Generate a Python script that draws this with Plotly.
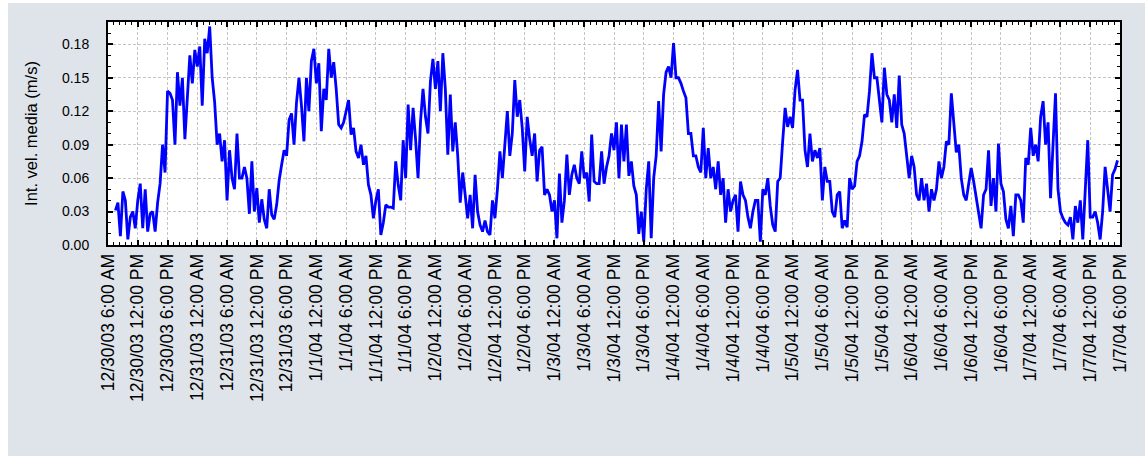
import plotly.graph_objects as go
import pandas as pd

start_time = "2003-12-30 07:30"
step_minutes = 30

velocity = [
    # 12/30 07:30 ->
    0.031, 0.038, 0.008, 0.048, 0.040, 0.005, 0.025, 0.030, 0.015, 0.040,
    0.055, 0.015, 0.050, 0.012, 0.028, 0.030, 0.012, 0.038, 0.055, 0.090,
    0.065, 0.138, 0.136, 0.130, 0.090, 0.155, 0.125, 0.150, 0.095, 0.138,
    0.170, 0.145, 0.175, 0.160, 0.178, 0.125, 0.185, 0.172, 0.196, 0.150,
    0.128, 0.090, 0.100, 0.075, 0.094, 0.040, 0.085, 0.060, 0.050, 0.100,
    0.060, 0.060, 0.070, 0.060, 0.028, 0.075, 0.030,
    # 12/31 12:00 PM ->
    0.051, 0.020, 0.041, 0.023, 0.015, 0.050, 0.027, 0.023, 0.036, 0.058,
    0.072, 0.085, 0.080, 0.112, 0.118, 0.090, 0.128, 0.150, 0.125, 0.093,
    0.150, 0.120, 0.165, 0.176, 0.145, 0.163, 0.102, 0.140, 0.130, 0.176,
    0.150, 0.164, 0.140, 0.108, 0.105, 0.110, 0.120, 0.130, 0.099, 0.105,
    0.084, 0.078, 0.090, 0.072, 0.080, 0.054, 0.045, 0.024, 0.040, 0.050,
    0.009, 0.020, 0.036, 0.034, 0.034, 0.033, 0.075, 0.054,
    # 1/1 5:00 PM ->
    0.040, 0.094, 0.060, 0.126, 0.085, 0.123, 0.095, 0.060, 0.111, 0.140,
    0.115, 0.100, 0.147, 0.167, 0.140, 0.165, 0.120, 0.172, 0.140, 0.081,
    0.135, 0.084, 0.110, 0.080, 0.038, 0.065, 0.045, 0.024, 0.045, 0.015,
    0.063, 0.030, 0.018, 0.012, 0.022, 0.012, 0.009, 0.040, 0.024, 0.050,
    0.084, 0.060, 0.090, 0.120, 0.080, 0.100, 0.148, 0.115, 0.130, 0.105,
    0.066, 0.115, 0.095, 0.080, 0.100, 0.057, 0.085, 0.088, 0.045,
    # 1/2 10:30 PM ->
    0.050, 0.045, 0.030, 0.040, 0.006, 0.064, 0.020, 0.040, 0.081, 0.045,
    0.063, 0.072, 0.060, 0.055, 0.084, 0.060, 0.065, 0.039, 0.099, 0.057,
    0.055, 0.055, 0.084, 0.055, 0.070, 0.080, 0.100, 0.085, 0.110, 0.060,
    0.108, 0.075, 0.108, 0.062, 0.075, 0.053, 0.045, 0.010, 0.030, 0.003,
    0.050, 0.075, 0.006, 0.060, 0.080, 0.129, 0.084, 0.135, 0.155, 0.160,
    0.150, 0.181, 0.150, 0.150, 0.145, 0.138, 0.132, 0.100,
    # 1/4 3:30 AM ->
    0.100, 0.080, 0.080, 0.070, 0.065, 0.105, 0.060, 0.087, 0.060, 0.070,
    0.050, 0.075, 0.045, 0.060, 0.020, 0.050, 0.030, 0.040, 0.045, 0.012,
    0.057, 0.045, 0.040, 0.025, 0.015, 0.030, 0.040, 0.040, 0.003, 0.050,
    0.045, 0.060, 0.035, 0.018, 0.012, 0.057, 0.060, 0.093, 0.123, 0.106,
    0.115, 0.105, 0.139, 0.157, 0.130, 0.130, 0.085, 0.070, 0.100, 0.075,
    0.085, 0.078, 0.087, 0.040, 0.070, 0.057, 0.057, 0.030, 0.025,
    # 1/5 9:00 AM ->
    0.045, 0.048, 0.015, 0.022, 0.016, 0.060, 0.050, 0.053, 0.075, 0.080,
    0.093, 0.117, 0.115, 0.138, 0.172, 0.150, 0.150, 0.128, 0.110, 0.159,
    0.135, 0.130, 0.110, 0.135, 0.105, 0.152, 0.108, 0.100, 0.080, 0.060,
    0.080, 0.070, 0.045, 0.040, 0.060, 0.040, 0.055, 0.030, 0.050, 0.040,
    0.050, 0.075, 0.060, 0.070, 0.093, 0.090, 0.136, 0.108, 0.083, 0.090,
    0.060, 0.045, 0.040, 0.055, 0.069, 0.057, 0.042, 0.030,
    # 1/6 2:00 PM ->
    0.015, 0.045, 0.050, 0.085, 0.035, 0.060, 0.030, 0.091, 0.055, 0.048,
    0.023, 0.015, 0.035, 0.008, 0.045, 0.045, 0.040, 0.020, 0.078, 0.072,
    0.105, 0.080, 0.090, 0.075, 0.115, 0.129, 0.090, 0.110, 0.042, 0.090,
    0.136, 0.050, 0.030, 0.024, 0.020, 0.018, 0.025, 0.005, 0.035, 0.020,
    0.040, 0.005, 0.050, 0.094, 0.025, 0.025, 0.030, 0.020, 0.005, 0.030,
    0.070, 0.050, 0.030, 0.063, 0.068, 0.076,
]

tick_labels = [
    "12/30/03 6:00 AM", "12/30/03 12:00 PM", "12/30/03 6:00 PM",
    "12/31/03 12:00 AM", "12/31/03 6:00 AM", "12/31/03 12:00 PM", "12/31/03 6:00 PM",
    "1/1/04 12:00 AM", "1/1/04 6:00 AM", "1/1/04 12:00 PM", "1/1/04 6:00 PM",
    "1/2/04 12:00 AM", "1/2/04 6:00 AM", "1/2/04 12:00 PM", "1/2/04 6:00 PM",
    "1/3/04 12:00 AM", "1/3/04 6:00 AM", "1/3/04 12:00 PM", "1/3/04 6:00 PM",
    "1/4/04 12:00 AM", "1/4/04 6:00 AM", "1/4/04 12:00 PM", "1/4/04 6:00 PM",
    "1/5/04 12:00 AM", "1/5/04 6:00 AM", "1/5/04 12:00 PM", "1/5/04 6:00 PM",
    "1/6/04 12:00 AM", "1/6/04 6:00 AM", "1/6/04 12:00 PM", "1/6/04 6:00 PM",
    "1/7/04 12:00 AM", "1/7/04 6:00 AM", "1/7/04 12:00 PM", "1/7/04 6:00 PM",
]
y_ticks = [0.00, 0.03, 0.06, 0.09, 0.12, 0.15, 0.18]
y_title = "Int. vel. media (m/s)"

times = pd.date_range(start=start_time, periods=len(velocity), freq=f"{step_minutes}min")
tick_vals = pd.date_range(start="2003-12-30 06:00", periods=len(tick_labels), freq="6h")

FONT = "Liberation Sans, Arial, sans-serif"

fig = go.Figure()
fig.add_trace(go.Scatter(
    x=times, y=velocity, mode="lines",
    line=dict(color="#0000ff", width=2.8),
    showlegend=False, hoverinfo="x+y",
))

grid = dict(showgrid=True, gridcolor="#c4c4c4", gridwidth=1, griddash="3px,2px")

fig.update_xaxes(
    type="date",
    range=["2003-12-30 06:00", "2004-01-07 18:00"],
    tickmode="array", tickvals=tick_vals, ticktext=tick_labels,
    tickangle=-90,
    tickfont=dict(family=FONT, size=17.5, color="#000"),
    ticks="inside", ticklen=5, tickwidth=1.5, tickcolor="#000",
    minor=dict(dtick=72 * 60 * 1000, tick0="2003-12-30 06:00", ticks="inside",
               ticklen=3, tickwidth=1, tickcolor="#000", showgrid=False),
    showline=True, linecolor="#000", linewidth=2, mirror="ticks",
    zeroline=False,
    **grid,
)
fig.update_yaxes(
    range=[0, 0.2],
    tickmode="array", tickvals=y_ticks, ticktext=[f"{v:.2f}" for v in y_ticks],
    tickfont=dict(family=FONT, size=14, color="#000"),
    ticks="inside", ticklen=5, tickwidth=1.5, tickcolor="#000",
    minor=dict(dtick=0.01, tick0=0, ticks="inside", ticklen=3, tickwidth=1,
               tickcolor="#000", showgrid=False),
    showline=True, linecolor="#000", linewidth=2, mirror="ticks",
    zeroline=False,
    title=dict(text=y_title, font=dict(family=FONT, size=16.5, color="#000"), standoff=20),
    ticklabelstandoff=14,
    **grid,
)

fig.update_layout(
    width=1137, height=453, autosize=False,
    margin=dict(l=100, r=25, t=19, b=211, pad=0),
    paper_bgcolor="#dfe3ea",
    plot_bgcolor="#ffffff",
)

fig.write_html("out.html", post_script="document.body.style.margin='3px 0 0 8px';")
